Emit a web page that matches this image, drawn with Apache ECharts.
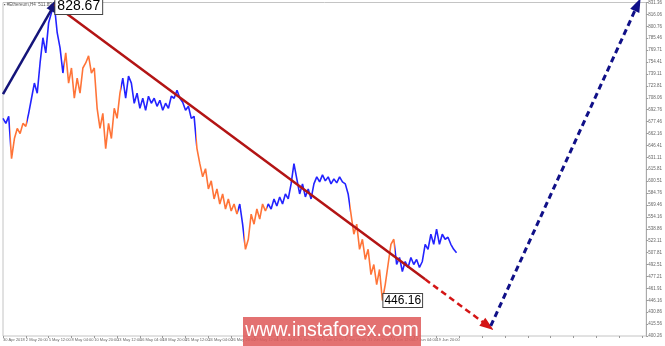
<!DOCTYPE html>
<html><head><meta charset="utf-8">
<script src="https://cdn.jsdelivr.net/npm/echarts@6/dist/echarts.min.js"></script>
<style>html,body{margin:0;padding:0;background:#fff}#c{width:665px;height:346px}</style>
</head><body><div id="c"></div>
<script>
// ---- data ----
const chartTitle = '▪ #Ethereum,H4  511.89 513.24 507.23 507.81';
const xLabels = ['30 Apr 2018','2 May 20:00','5 May 12:00','8 May 04:00','10 May 20:00','13 May 12:00','16 May 04:00','18 May 20:00','21 May 12:00','24 May 04:00','26 May 20:00','29 May 12:00','1 Jun 04:00','3 Jun 20:00','6 Jun 12:00','9 Jun 04:00','11 Jun 20:00','14 Jun 12:00','17 Jun 04:00','19 Jun 20:00'];
const xLabelEvery = 16;      // bars between time labels
const xMaxBars = 451;
const yLabels = ['400.26','415.56','430.86','446.16','461.91','477.21','492.51','507.81','523.11','538.86','554.16','569.46','584.76','600.51','615.81','631.11','646.41','662.16','677.46','692.76','708.06','723.81','739.11','754.41','769.71','785.46','800.76','816.06','831.36'];
const barStep = 2;           // one close every 2 H4 bars
const closes = [
681.6,675.1,684.2,629.5,655.5,668.6,662.0,675.1,671.2,688.1,
707.6,727.2,714.1,753.2,785.8,766.2,805.3,818.3,828.67,792.3,
772.7,740.2,766.2,727.2,746.7,707.6,733.7,714.1,746.7,753.2,
762.3,740.2,746.7,694.6,668.6,688.1,642.5,675.1,655.5,694.6,
681.6,714.1,733.7,707.6,736.3,727.2,701.1,714.1,694.6,707.6,
692.0,710.2,701.1,707.6,697.2,705.0,692.0,701.1,694.6,710.2,
707.6,718.0,707.6,702.4,692.0,697.2,681.6,684.2,642.5,623.0,
606.0,616.5,590.4,600.8,577.4,590.4,570.9,583.9,564.4,577.4,
561.8,570.9,557.8,570.9,544.8,512.3,525.3,557.8,544.8,564.4,
551.3,570.9,561.8,570.9,564.4,577.4,568.3,580.0,570.9,583.9,
577.4,596.9,623.0,603.4,583.9,596.9,580.0,590.4,577.4,596.9,
606.0,599.5,608.6,600.8,606.0,596.9,603.4,598.2,606.0,599.5,
596.9,583.9,557.8,531.8,544.8,512.3,525.3,499.2,512.3,479.7,
492.7,466.7,486.2,446.16,466.7,492.7,518.8,525.3,492.7,501.8,
483.6,496.6,488.8,501.8,492.7,499.2,488.8,496.6,518.8,512.3,
531.8,518.8,538.3,518.8,531.8,525.3,527.9,518.8,512.3,507.81];
const waveBreaks = [5, 17, 43, 83, 135, 165, 169, 185, 243, 275];
const waveColors = ['#2323ff','#ff7438','#2323ff','#ff7438','#2323ff','#ff7438','#2323ff','#ff7438','#2323ff','#ff7438','#2323ff'];
const peak = [36, 828.67];
const low = [266, 446.16];
const impulseUp = [[0, 713], [36, 828.67]];
const trendDown = [[36, 828.67], [296, 473.5]];
const trendDownForecast = [[296, 473.5], [340, 413.3]];
const forecastUp = [[342, 413.3], [445, 828.7]];

// ---- chart ----
const chart = echarts.init(document.getElementById('c'), null, {renderer: 'canvas'});
const pieces = waveColors.map((c, i) => {
  const p = {color: c};
  if (i > 0) p.gte = waveBreaks[i - 1];
  if (i < waveBreaks.length) p.lt = waveBreaks[i];
  return p;
});
const lastClose = closes[closes.length - 1];
const font = 'Liberation Sans';
function arrowSeries(seg, color, width, type, arrow) {
  return {
    type: 'line', data: [], silent: true,
    markLine: {
      silent: true, animation: false,
      symbol: ['none', arrow ? 'triangle' : 'none'], symbolSize: [10, 14],
      label: {show: false},
      lineStyle: {color: color, width: width, type: type},
      emphasis: {disabled: true},
      data: [[{coord: seg[0]}, {coord: seg[1]}]]
    }
  };
}
chart.setOption({
  animation: false,
  backgroundColor: '#fff',
  grid: {left: 2, right: 16, top: 2, bottom: 10, show: true, borderColor: '#c4c4c4', borderWidth: 1},
  xAxis: {
    type: 'value', min: 0, max: xMaxBars, interval: xLabelEvery,
    axisLine: {show: false},
    axisTick: {show: true, length: 2, lineStyle: {color: '#999'}},
    splitLine: {show: false},
    axisLabel: {
      show: true, align: 'left', margin: 2, fontSize: 4, color: '#666', fontFamily: font,
      showMaxLabel: false, showMinLabel: true, hideOverlap: false,
      formatter: v => (v % xLabelEvery === 0 && xLabels[v / xLabelEvery]) ? xLabels[v / xLabelEvery] : ''
    }
  },
  yAxis: [
    {type: 'value', min: +yLabels[0], max: +yLabels[yLabels.length - 1], show: false, splitLine: {show: false}},
    {type: 'value', position: 'right', min: 0, max: yLabels.length - 1, interval: 1,
     axisLine: {show: true, lineStyle: {color: '#aaa'}},
     axisTick: {show: true, length: 2, lineStyle: {color: '#999'}},
     splitLine: {show: false},
     axisLabel: {fontSize: 4.5, color: '#666', margin: 2, fontFamily: font, formatter: v => yLabels[v] || ''}}
  ],
  visualMap: {type: 'piecewise', show: false, dimension: 0, seriesIndex: 0, pieces: pieces},
  series: [
    {
      type: 'line', symbol: 'none', silent: true,
      data: closes.map((v, i) => [i * barStep, v]),
      lineStyle: {width: 1.6},
      markPoint: {
        silent: true, symbol: 'circle', symbolSize: 0, animation: false,
        label: {show: true, position: 'right', distance: 1, color: '#000', fontFamily: font,
                backgroundColor: '#fff', borderColor: '#444', borderWidth: 1, formatter: p => p.value.toFixed(2)},
        data: [
          {coord: peak, value: peak[1], label: {fontSize: 14, padding: [1, 2, 0, 2], offset: [0, 2]}},
          {coord: low, value: low[1], label: {fontSize: 12, padding: [1, 1, 0, 1]}}
        ]
      },
      markLine: {
        silent: true, symbol: 'none', animation: false,
        data: [{yAxis: lastClose, lineStyle: {opacity: 0},
                label: {show: true, position: 'end', distance: 1, formatter: lastClose.toFixed(2),
                        backgroundColor: '#4a5a72', color: '#fff', fontSize: 4.5, padding: [1, 1], fontFamily: font}}]
      }
    },
    arrowSeries(impulseUp, '#14147a', 2.5, 'solid', true),
    arrowSeries(trendDown, '#b31414', 2.5, 'solid', false),
    arrowSeries(trendDownForecast, '#d41515', 2.5, [6, 4], true),
    arrowSeries(forecastUp, '#101088', 3, [6, 4], true)
  ],
  graphic: [
    {type: 'text', left: 4, top: 2, style: {text: chartTitle, fontSize: 4.5, fill: '#555', fontFamily: font}},
    {type: 'rect', shape: {x: 243, y: 317, width: 178, height: 29}, style: {fill: 'rgba(222,88,88,0.85)'}, z: 100},
    {type: 'text', x: 332, y: 331, style: {text: 'www.instaforex.com', fill: '#fff', fontSize: 19.5, fontFamily: font, align: 'center', verticalAlign: 'middle'}, z: 101}
  ]
});
</script></body></html>
